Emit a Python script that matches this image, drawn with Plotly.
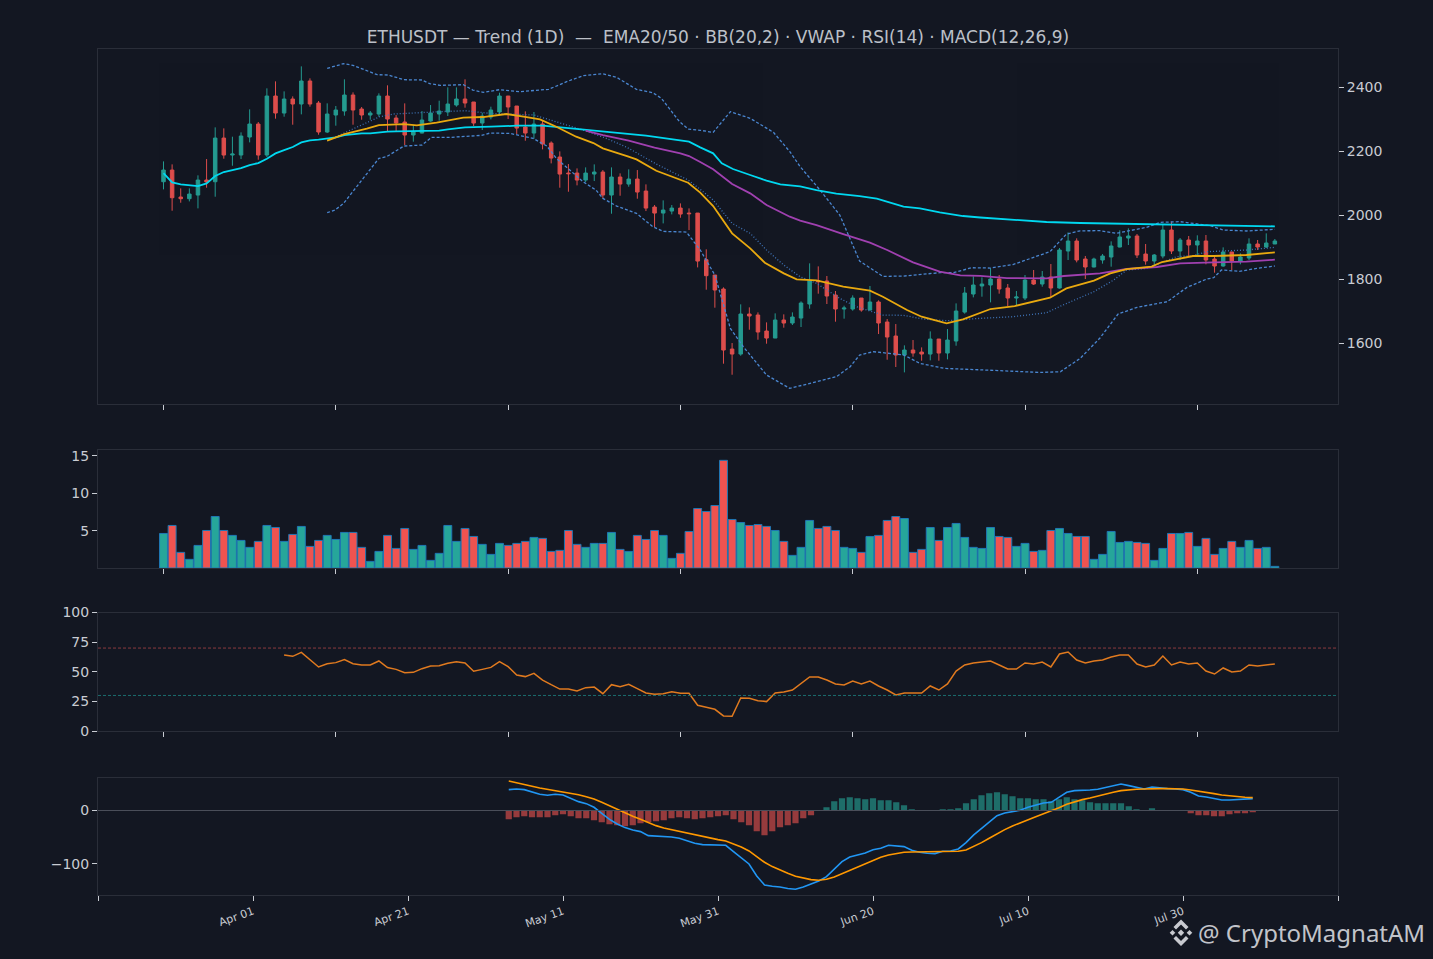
#!/usr/bin/env python3
"""ETHUSDT daily trend chart: candles, volume, RSI and MACD panels."""
import pandas as pd
import plotly.graph_objects as go

W, H = 1433, 959
BG = '#131722'
FRAME = '#2a2e39'
TEXT = '#c9ccd3'
UP = '#26a69a'
DOWN = '#ef5350'

OPEN = [2104.6, 2141.0, 2056.8, 2051.6, 2063.0, 2109.8, 2104.6, 2240.8, 2187.8, 2187.8,
        2244.0, 2284.5, 2187.8, 2371.9, 2318.8, 2362.5, 2346.9, 2418.7, 2350.0, 2259.6,
        2312.6, 2325.1, 2375.0, 2331.3, 2312.6, 2315.7, 2371.9, 2303.2, 2290.8, 2250.2,
        2256.4, 2293.9, 2315.7, 2322.0, 2343.8, 2362.5, 2353.2, 2287.6, 2306.4, 2322.0,
        2371.9, 2340.7, 2275.2, 2256.4, 2284.5, 2225.2, 2181.6, 2131.6, 2131.6, 2109.8,
        2128.5, 2134.8, 2063.0, 2119.2, 2097.3, 2112.9, 2075.5, 2025.6, 2006.8, 2013.1,
        2022.4, 2006.8, 2006.8, 1861.4, 1813.6, 1769.9, 1582.7, 1567.1, 1691.9, 1688.8,
        1638.9, 1617.0, 1673.2, 1663.8, 1679.4, 1723.1, 1794.9, 1794.9, 1751.2, 1707.5,
        1707.5, 1741.8, 1704.4, 1729.4, 1667.0, 1623.3, 1564.0, 1579.6, 1573.4, 1567.1,
        1613.9, 1570.2, 1607.7, 1698.0, 1754.3, 1779.3, 1782.4, 1801.1, 1773.0, 1741.8,
        1741.8, 1798.0, 1785.5, 1807.4, 1773.0, 1888.5, 1919.7, 1863.5, 1838.6, 1860.4,
        1869.8, 1900.9, 1929.0, 1935.3, 1879.1, 1857.3, 1872.9, 1954.0, 1888.5, 1922.8,
        1907.2, 1919.7, 1863.5, 1841.7, 1885.4, 1857.3, 1866.6, 1910.3, 1900.9, 1910.3]
HIGH = [2168.0, 2158.7, 2083.8, 2083.8, 2124.4, 2175.3, 2274.1, 2271.0, 2245.0, 2258.5,
        2330.3, 2290.8, 2395.8, 2417.6, 2386.4, 2370.8, 2464.4, 2427.0, 2356.3, 2349.0,
        2340.7, 2423.9, 2383.3, 2337.6, 2325.1, 2380.2, 2405.2, 2312.6, 2349.0, 2281.4,
        2325.1, 2343.8, 2357.3, 2398.9, 2398.9, 2423.9, 2353.2, 2319.9, 2338.6, 2382.3,
        2371.9, 2340.7, 2324.0, 2322.0, 2297.0, 2230.4, 2199.2, 2159.7, 2146.2, 2149.3,
        2158.7, 2141.0, 2149.3, 2130.6, 2143.1, 2141.0, 2096.3, 2031.8, 2046.4, 2031.8,
        2037.0, 2021.4, 2006.8, 1893.7, 1813.6, 1775.1, 1601.4, 1722.1, 1712.7, 1697.1,
        1665.9, 1694.0, 1690.9, 1697.1, 1731.4, 1850.0, 1840.6, 1810.5, 1763.7, 1717.9,
        1750.2, 1741.8, 1779.3, 1734.6, 1676.3, 1660.7, 1594.2, 1610.8, 1587.9, 1637.8,
        1613.9, 1645.1, 1725.2, 1776.2, 1809.4, 1806.3, 1834.4, 1813.6, 1785.5, 1763.7,
        1813.6, 1829.2, 1826.1, 1847.9, 1897.8, 1946.7, 1928.0, 1872.9, 1867.7, 1879.1,
        1918.6, 1953.0, 1959.2, 1941.5, 1910.3, 1879.1, 1969.6, 1980.0, 1929.0, 1935.3,
        1937.4, 1938.4, 1876.0, 1899.9, 1885.4, 1881.2, 1928.0, 1922.8, 1943.6, 1925.9]
LOW = [2080.7, 2014.1, 2039.1, 2043.2, 2021.4, 2085.9, 2057.8, 2176.4, 2154.5, 2175.3,
       2227.3, 2173.2, 2181.6, 2301.2, 2307.4, 2282.4, 2314.7, 2338.6, 2251.2, 2256.4,
       2279.3, 2310.5, 2282.4, 2298.0, 2298.0, 2307.4, 2262.7, 2259.6, 2219.0, 2229.4,
       2255.4, 2291.8, 2294.9, 2309.5, 2338.6, 2335.5, 2278.3, 2265.8, 2299.1, 2315.7,
       2300.1, 2253.3, 2232.5, 2238.8, 2205.5, 2161.8, 2085.9, 2073.4, 2093.2, 2103.6,
       2106.7, 2052.6, 2004.8, 2060.9, 2089.0, 2051.6, 2013.1, 1963.2, 1974.6, 2002.7,
       1992.3, 1953.8, 1837.3, 1767.8, 1711.7, 1537.0, 1502.6, 1561.9, 1643.0, 1611.8,
       1599.4, 1617.0, 1649.3, 1657.6, 1651.4, 1708.6, 1755.4, 1723.1, 1668.0, 1677.4,
       1702.3, 1699.2, 1703.4, 1629.5, 1549.4, 1526.6, 1509.9, 1558.8, 1546.3, 1547.4,
       1546.3, 1550.5, 1593.1, 1693.0, 1743.9, 1746.0, 1728.3, 1755.4, 1716.9, 1716.9,
       1735.6, 1782.4, 1777.2, 1743.9, 1771.0, 1860.4, 1853.1, 1801.1, 1837.5, 1849.0,
       1839.6, 1899.9, 1907.2, 1866.6, 1845.8, 1844.8, 1865.6, 1879.1, 1860.4, 1870.8,
       1876.0, 1846.9, 1820.9, 1839.6, 1829.2, 1846.9, 1860.4, 1891.6, 1897.8, 1910.3]
CLOSE = [2141.0, 2054.7, 2051.6, 2066.1, 2109.8, 2103.6, 2240.8, 2187.8, 2190.9, 2247.1,
         2284.5, 2187.8, 2371.9, 2318.8, 2362.5, 2346.9, 2418.7, 2346.9, 2259.6, 2315.7,
         2328.2, 2375.0, 2328.2, 2312.6, 2318.8, 2371.9, 2300.1, 2287.6, 2250.2, 2259.6,
         2297.0, 2318.8, 2325.1, 2346.9, 2362.5, 2350.0, 2287.6, 2309.5, 2328.2, 2371.9,
         2337.6, 2272.0, 2256.4, 2284.5, 2222.1, 2178.4, 2128.5, 2129.6, 2109.8, 2131.6,
         2134.8, 2063.0, 2119.2, 2097.3, 2112.9, 2072.4, 2022.4, 2006.8, 2016.2, 2022.4,
         2003.7, 2004.8, 1857.1, 1811.5, 1766.8, 1579.6, 1567.1, 1691.9, 1685.7, 1635.8,
         1617.0, 1673.2, 1663.8, 1682.6, 1726.2, 1794.9, 1792.8, 1748.1, 1707.5, 1710.6,
         1741.8, 1704.4, 1729.4, 1663.8, 1620.2, 1564.0, 1579.6, 1570.2, 1567.1, 1613.9,
         1570.2, 1610.8, 1701.3, 1757.4, 1782.4, 1785.5, 1801.1, 1769.9, 1741.8, 1745.0,
         1798.0, 1785.5, 1807.4, 1773.0, 1891.6, 1919.7, 1860.4, 1838.6, 1863.5, 1872.9,
         1904.1, 1932.2, 1935.3, 1876.0, 1857.3, 1876.0, 1954.0, 1888.5, 1922.8, 1907.2,
         1919.7, 1860.4, 1841.7, 1885.4, 1857.3, 1869.8, 1910.3, 1900.9, 1913.4, 1919.7]
VOLUME = [4.62, 5.69, 2.09, 1.16, 3.02, 5.02, 6.89, 5.02, 4.36, 3.69,
          2.76, 3.56, 5.69, 5.42, 3.56, 4.49, 5.56, 2.89, 3.69, 4.36,
          3.82, 4.76, 4.76, 2.76, 0.89, 2.22, 4.36, 2.62, 5.29, 2.49,
          3.02, 1.02, 1.96, 5.69, 3.56, 5.29, 4.22, 3.16, 1.82, 3.29,
          3.02, 3.29, 3.56, 4.09, 3.96, 2.22, 2.36, 5.02, 3.16, 2.76,
          3.29, 3.29, 4.76, 2.49, 2.22, 4.36, 3.82, 5.02, 4.36, 1.29,
          1.96, 4.89, 7.96, 7.56, 8.36, 14.4, 6.49, 6.09, 5.69, 5.82,
          5.56, 5.02, 3.56, 1.69, 2.76, 6.36, 5.29, 5.56, 5.02, 2.76,
          2.62, 2.09, 4.22, 4.36, 6.36, 6.89, 6.62, 2.09, 2.49, 5.42,
          3.69, 5.42, 5.96, 4.09, 2.76, 2.62, 5.42, 4.22, 4.09, 2.89,
          3.29, 2.22, 2.36, 5.02, 5.29, 4.62, 4.22, 4.22, 1.16, 1.82,
          4.89, 3.42, 3.56, 3.42, 3.29, 1.02, 2.62, 4.62, 4.62, 4.76,
          2.89, 3.96, 1.82, 2.62, 3.56, 2.76, 3.69, 2.62, 2.76, 0.22]

# overlays, read at the bends of each line
EMA_SLOW_X = list(range(34)) + [35, 38, 41, 44, 47, 50, 53, 56, 59, 61, 62.3, 63.8, 64.8, 66.1, 68.1, 70,
                                71.6, 73.9, 75.8, 78.1, 80.8, 82.8, 85.9, 87.8, 90.1, 92.8, 94.8, 98.6,
                                102.5, 106.4, 110.3, 114.1, 118, 121.9, 125.7, 129]
EMA_SLOW = [2131.6, 2102.5, 2096.3, 2093.2, 2091.1, 2099.4, 2122.3, 2134.8, 2141.0, 2147.2,
            2156.6, 2162.8, 2176.4, 2193.0, 2203.4, 2212.8, 2227.3, 2233.6, 2235.6, 2238.8,
            2243.0, 2250.2, 2253.3, 2255.4, 2255.4, 2258.5, 2260.6, 2261.6, 2261.6, 2261.6,
            2261.6, 2262.7, 2263.7, 2267.9, 2274.1, 2276.2, 2279.3, 2279.3, 2272.0, 2265.8,
            2256.4, 2248.1, 2236.7, 2229.4, 2211.8, 2193.1, 2161.9, 2144.2, 2125.5, 2107.8,
            2096.4, 2090.1, 2078.7, 2067.3, 2060.0, 2051.7, 2026.7, 2021.5, 2009.0, 1997.6,
            1993.0, 1985.2, 1979.0, 1975.8, 1973.8, 1971.7, 1970.6, 1967.5, 1966.5, 1965.4]
EMA50_X = [49, 51, 54, 57, 60, 61, 62.3, 63.8, 66, 68.1, 70, 72.7, 73.9, 75.8, 78.9, 82, 84, 87, 90.1,
           92.5, 94.8, 97.9, 102.5, 104.5, 108.7, 111.8, 115.3, 118, 121.9, 125.7, 129]
EMA50 = [2263.7, 2250.2, 2232.5, 2210.7, 2193.0, 2184.7, 2166.0, 2143.2, 2097.4, 2068.3, 2031.9, 1995.5,
         1983.0, 1969.5, 1941.4, 1914.4, 1891.5, 1853.0, 1823.9, 1812.4, 1810.9, 1804.2, 1803.2, 1810.5,
         1818.8, 1832.3, 1838.6, 1850.0, 1853.1, 1855.2, 1861.4]
EMA20_X = [19, 21, 23.6, 25, 27.9, 29.4, 31.7, 34.8, 37.1, 39.8, 41.8, 43.7, 45.6, 47.9, 49.9, 51, 53.8,
           54.9, 57.2, 60.9, 62.3, 63.8, 66, 68.1, 69.8, 72, 73.5, 75.8, 78.9, 82, 83.5, 86.3, 88, 90.9,
           92.8, 94.8, 96, 98.8, 102.9, 104.8, 108, 109.9, 111.8, 114.7, 115.9, 119.5, 121.9, 125.7, 129]
EMA20 = [2232.5, 2253.3, 2270.0, 2281.4, 2284.5, 2280.4, 2288.7, 2304.3, 2306.4, 2315.7, 2307.4, 2299.1,
         2276.2, 2245.0, 2225.2, 2208.6, 2184.7, 2174.3, 2138.9, 2101.5, 2070.4, 2028.8, 1943.5, 1896.7,
         1852.0, 1818.7, 1800.0, 1796.9, 1777.1, 1764.7, 1746.0, 1704.4, 1683.6, 1662.8, 1675.3, 1694.0,
         1707.5, 1716.9, 1742.9, 1772.0, 1796.0, 1818.8, 1832.3, 1839.6, 1854.2, 1872.9, 1872.9, 1876.0,
         1884.3]
BB_MID_X = [19, 21.7, 25.1, 26.7, 29.4, 32.1, 35, 37.9, 43, 45.6, 48.7, 51.4, 53.8, 57.2, 60.9, 62.3, 63.8,
            66, 68.1, 70, 72, 73.9, 75.8, 78.5, 80.4, 83.5, 85.9, 88.2, 90.9, 94.8, 98.6, 102.5, 104.4, 108,
            110.3, 111.8, 114.1, 117.6, 119.5, 121.1, 125.7, 129]
BB_MID = [2232.5, 2265.8, 2307.4, 2315.7, 2320.0, 2323.0, 2326.1, 2317.8, 2312.6, 2291.8, 2265.8, 2239.8,
          2211.7, 2159.7, 2109.8, 2080.8, 2047.5, 1974.7, 1943.5, 1891.5, 1844.7, 1808.3, 1787.6, 1740.8,
          1714.8, 1688.8, 1687.8, 1676.2, 1671.0, 1678.4, 1683.6, 1696.0, 1720.0, 1761.6, 1798.0, 1829.2,
          1834.4, 1870.8, 1873.9, 1886.4, 1891.6, 1899.9]
BB_UP_X = [19, 20.9, 22, 24.8, 26.1, 27.9, 30, 30.9, 32.1, 34.8, 35.9, 37.1, 39, 41.3, 44.7, 46.8, 48.7, 51,
           52.6, 54.9, 56.8, 57.8, 59.9, 60.9, 62.3, 63.8, 65.8, 68.1, 70.8, 72.7, 73.9, 76.2, 78.5, 80.8,
           83.5, 85.9, 90.1, 91.7, 93.8, 96, 98.6, 102.9, 104.8, 106.4, 108.7, 110.6, 114.1, 115.7, 118,
           120.3, 121.5, 123, 125.7, 129]
BB_UP = [2458.2, 2472.8, 2467.6, 2438.4, 2437.4, 2422.8, 2421.8, 2410.4, 2405.2, 2407.2, 2390.6, 2383.3,
         2391.6, 2385.4, 2392.7, 2416.6, 2435.3, 2441.6, 2430.1, 2392.7, 2382.3, 2364.6, 2291.8, 2268.9,
         2265.0, 2258.5, 2323.0, 2302.3, 2258.6, 2198.3, 2151.5, 2078.7, 2000.7, 1857.2, 1809.3, 1810.4,
         1820.8, 1820.8, 1836.4, 1835.4, 1846.3, 1886.4, 1941.0, 1951.4, 1951.9, 1943.6, 1962.3, 1977.9,
         1980.0, 1972.7, 1967.5, 1954.0, 1950.9, 1956.1]
BB_LOW_X = [19, 19.9, 20.9, 23.2, 25, 25.9, 27.9, 30, 31.1, 33.3, 35, 36.9, 37.9, 40.2, 42.9, 44.5, 45.6,
            48.7, 50.2, 51, 52.6, 54.9, 56.8, 58, 60.7, 62.3, 64, 65.8, 67.3, 70, 72.7, 75.8, 78.1, 79.7,
            80.8, 82.4, 85.9, 87.8, 90.6, 95.5, 101.7, 104.1, 106.4, 108.7, 110.8, 113, 116.5, 118.8, 121.1,
            121.9, 122.8, 124.9, 126.9, 129]
BB_LOW = [2007.9, 2016.2, 2037.0, 2115.0, 2177.4, 2182.6, 2215.9, 2219.0, 2242.9, 2242.9, 2245.0, 2249.2,
          2256.4, 2255.4, 2239.8, 2215.9, 2177.4, 2104.6, 2078.6, 2052.6, 2028.7, 2005.8, 1964.2, 1949.6,
          1947.6, 1891.6, 1813.6, 1647.2, 1590.0, 1501.6, 1460.0, 1480.8, 1496.4, 1527.6, 1564.0, 1574.4,
          1564.5, 1538.0, 1522.4, 1517.1, 1509.8, 1511.9, 1553.5, 1617.1, 1691.9, 1712.7, 1730.4, 1775.1,
          1801.1, 1805.3, 1829.2, 1825.0, 1834.4, 1841.7]

RSI_START = 14
RSI = [64.1, 63.0, 66.4, 60.5, 54.0, 56.8, 57.7, 60.2, 56.8, 55.7, 55.7, 59.1, 53.5, 52.0, 49.2, 49.5,
       52.6, 54.9, 55.1, 57.1, 58.5, 57.4, 50.4, 52.0, 53.7, 58.5, 54.3, 47.3, 45.9, 48.7, 43.0, 39.1,
       35.4, 35.4, 33.8, 36.6, 37.1, 31.5, 39.1, 37.4, 39.4, 35.7, 32.1, 31.0, 31.5, 33.2, 31.8, 31.8,
       21.7, 20.0, 18.3, 12.7, 12.4, 27.9, 27.6, 25.6, 24.8, 32.0, 32.9, 34.6, 40.5, 45.6, 45.6, 43.0,
       39.7, 38.8, 42.2, 39.7, 42.2, 38.0, 34.6, 30.4, 32.0, 32.0, 32.0, 38.0, 34.6, 39.7, 50.6, 55.7,
       57.4, 58.2, 59.1, 55.7, 52.3, 52.3, 57.4, 56.5, 58.2, 54.0, 65.0, 66.7, 59.9, 57.4, 59.1, 59.9,
       62.4, 64.1, 64.1, 56.5, 54.0, 55.7, 63.3, 55.7, 58.2, 56.5, 57.4, 50.6, 48.1, 53.2, 49.8, 50.6,
       55.7, 54.9, 55.7, 56.5]

MACD_DATES = pd.date_range('2023-05-04', periods=97, freq='D')
MACD = [39.0, 40.2, 39.0, 34.0, 30.3, 28.4, 30.3, 29.0, 22.8, 16.6, 12.8, 6.0, -5.2, -16.5, -25.2, -32.0,
        -36.4, -39.5, -47.0, -47.6, -49.5, -49.5, -52.0, -57.0, -61.3, -63.8, -64.4, -65.7, -65.0, -76.9,
        -88.1, -100.0, -122.4, -139.2, -141.7, -142.9, -146.0, -147.3, -142.9, -138.0, -131.7, -123.6,
        -109.3, -95.6, -86.9, -83.1, -79.4, -73.2, -70.7, -65.0, -65.7, -67.5, -74.4, -78.1, -80.0, -80.6,
        -76.3, -75.6, -71.9, -60.1, -45.7, -33.3, -20.8, -9.6, -4.6, -2.1, 0.4, 6.0, 10.3, 14.1, 15.3, 24.0,
        34.0, 37.1, 37.1, 38.4, 39.6, 42.7, 46.5, 49.6, 46.5, 42.7, 40.2, 44.0, 42.1, 40.9, 40.2, 39.0, 34.0,
        27.2, 25.3, 22.8, 19.7, 19.7, 20.3, 20.9, 22.2]
SIGNAL = [55.2, 51.4, 48.3, 45.2, 42.1, 39.6, 37.7, 35.9, 32.8, 29.6, 25.9, 21.5, 15.3, 8.5, 1.6, -4.6, -10.9,
          -16.5, -22.7, -28.3, -32.7, -35.8, -38.9, -42.6, -46.4, -49.5, -52.0, -54.5, -57.0, -62.0, -68.2,
          -75.6, -85.6, -96.8, -104.9, -111.8, -117.4, -123.0, -126.7, -129.2, -130.5, -128.6, -124.2, -118.0,
          -111.2, -104.9, -98.7, -93.1, -87.5, -83.1, -80.0, -78.1, -77.5, -77.5, -77.5, -77.5, -77.5, -76.9,
          -76.3, -73.8, -67.5, -60.1, -52.0, -43.2, -35.8, -28.9, -22.7, -17.1, -11.5, -5.9, -0.9, 5.3, 11.6,
          16.6, 20.3, 23.4, 27.2, 30.3, 34.0, 37.1, 39.0, 39.6, 40.2, 40.9, 40.9, 40.9, 40.9, 40.2, 38.4, 36.5,
          34.0, 31.5, 29.0, 27.2, 25.9, 24.7, 24.0]
HIST = [-16.2, -12.5, -10.6, -12.5, -12.5, -12.5, -8.7, -6.9, -10.6, -14.3, -14.3, -18.1, -21.8, -25.5, -27.4,
        -29.3, -27.4, -23.7, -21.8, -19.9, -18.1, -14.3, -12.5, -14.3, -16.2, -14.3, -12.5, -10.6, -8.7, -16.2,
        -21.8, -27.4, -38.6, -46.1, -38.6, -31.2, -27.4, -23.7, -14.3, -8.7, -0.6, 6.2, 17.4, 23.1, 24.9, 23.1,
        21.2, 23.1, 19.3, 19.3, 15.6, 10.0, 2.5, 0.6, -0.6, -0.6, 2.5, 2.5, 4.4, 13.7, 21.2, 28.7, 32.4, 34.3,
        30.5, 26.8, 23.1, 23.1, 21.2, 21.2, 17.4, 21.2, 24.9, 21.2, 19.3, 15.6, 13.7, 13.7, 13.7, 13.7, 8.1, 2.5,
        0.6, 4.4, 0.0, 0.0, -0.6, -0.6, -5.0, -8.7, -8.7, -10.6, -10.6, -6.9, -5.0, -5.0, -3.1]

DATE_TICKS = ['2023-03-12', '2023-04-01', '2023-04-21', '2023-05-11', '2023-05-31',
              '2023-06-20', '2023-07-10', '2023-07-30', '2023-08-19']
DATE_LABELS = ['', 'Apr 01', 'Apr 21', 'May 11', 'May 31', 'Jun 20', 'Jul 10', 'Jul 30', '']
INDEX_TICKS = [0, 20, 40, 60, 80, 100, 120]

candle_x = list(range(len(CLOSE)))
rsi_x = candle_x[RSI_START:]


def fx(px):
    return px / W


def fy(px):
    return 1 - px / H


fig = go.Figure()

# price panel
fig.add_trace(go.Candlestick(
    x=candle_x, open=OPEN, high=HIGH, low=LOW, close=CLOSE,
    whiskerwidth=0,
    increasing=dict(line=dict(color=UP, width=1), fillcolor=UP),
    decreasing=dict(line=dict(color=DOWN, width=1), fillcolor=DOWN),
    opacity=0.92,
    xaxis='x', yaxis='y'
))
for xs, ys, color, dash, width in [
    (BB_UP_X, BB_UP, '#4a86d0', '3px,2px', 1.3),
    (BB_LOW_X, BB_LOW, '#4a86d0', '3px,2px', 1.3),
    (BB_MID_X, BB_MID, '#3f74b8', '1px,2px', 1.3),
    (EMA_SLOW_X, EMA_SLOW, '#00d8f0', 'solid', 1.8),
    (EMA50_X, EMA50, '#a040b0', 'solid', 1.8),
    (EMA20_X, EMA20, '#e9a90f', 'solid', 1.8),
]:
    fig.add_trace(go.Scatter(x=xs, y=ys, mode='lines', line=dict(color=color, dash=dash, width=width),
                             xaxis='x', yaxis='y'))

# volume panel
vol_colors = [UP if c >= o else DOWN for o, c in zip(OPEN, CLOSE)]
fig.add_trace(go.Bar(x=candle_x, y=VOLUME, width=0.92,
                     marker=dict(color=vol_colors, line=dict(color='#1f77b4', width=1)),
                     xaxis='x2', yaxis='y2'))

# rsi panel
fig.add_trace(go.Scatter(x=rsi_x, y=RSI, mode='lines', line=dict(color='#e07a1f', width=1.5),
                         xaxis='x3', yaxis='y3'))
fig.add_shape(type='line', xref='x3 domain', yref='y3', x0=0, x1=1, y0=70, y1=70,
              line=dict(color='#8b3a3f', width=1, dash='3px,2px'))
fig.add_shape(type='line', xref='x3 domain', yref='y3', x0=0, x1=1, y0=30, y1=30,
              line=dict(color='#1b6f6f', width=1, dash='3px,2px'))

# macd panel
hist_colors = ['rgba(38,166,154,0.6)' if v >= 0 else 'rgba(239,83,80,0.6)' for v in HIST]
fig.add_trace(go.Bar(x=MACD_DATES, y=HIST, marker=dict(color=hist_colors, line=dict(width=0)),
                     xaxis='x4', yaxis='y4'))
fig.add_shape(type='line', xref='x4 domain', yref='y4', x0=0, x1=1, y0=0, y1=0,
              line=dict(color='#4a4e59', width=1))
fig.add_trace(go.Scatter(x=MACD_DATES, y=MACD, mode='lines', line=dict(color='#2196f3', width=1.6),
                         xaxis='x4', yaxis='y4'))
fig.add_trace(go.Scatter(x=MACD_DATES, y=SIGNAL, mode='lines', line=dict(color='#ff9800', width=1.6),
                         xaxis='x4', yaxis='y4'))


def axis(**kw):
    base = dict(showgrid=False, zeroline=False, showline=True, mirror=True, linecolor=FRAME, linewidth=1,
                ticks='outside', ticklen=5, tickwidth=1, tickcolor='#c9ccd3', color=TEXT,
                tickfont=dict(size=14, color=TEXT))
    base.update(kw)
    return base


x_dom = [fx(98), fx(1338)]
x_range = [-7.603, 136.33]
index_axis = dict(domain=x_dom, range=x_range, tickmode='array', tickvals=INDEX_TICKS, showticklabels=False)

# sponsor mark next to the handle, drawn in page pixels
LOGO = [
    [(1181, 919.5), (1188.5, 927), (1186, 929.5), (1181, 924.5), (1176, 929.5), (1173.5, 927)],
    [(1181, 946), (1188.5, 938.5), (1186, 936), (1181, 941), (1176, 936), (1173.5, 938.5)],
    [(1181, 929.6), (1184.2, 932.8), (1181, 936), (1177.8, 932.8)],
    [(1172.5, 930), (1175.3, 932.8), (1172.5, 935.6), (1169.7, 932.8)],
    [(1189.5, 930), (1192.3, 932.8), (1189.5, 935.6), (1186.7, 932.8)],
]
for poly in LOGO:
    path = 'M ' + ' L '.join(f'{fx(a):.5f} {fy(b):.5f}' for a, b in poly) + ' Z'
    fig.add_shape(type='path', xref='paper', yref='paper', path=path,
                  fillcolor='#c8cad0', line=dict(width=0), layer='above')

fig.add_annotation(text='@ CryptoMagnatAM', xref='paper', yref='paper', x=fx(1427), y=fy(932),
                   xanchor='right', yanchor='middle', showarrow=False,
                   font=dict(family='Noto Sans', size=24, color='#c2c4ca'))

fig.update_layout(
    width=W, height=H,
    margin=dict(l=0, r=0, t=0, b=0, pad=0, autoexpand=False),
    autosize=False,
    showlegend=False,
    paper_bgcolor=BG,
    plot_bgcolor=BG,
    font=dict(family='DejaVu Sans', color=TEXT),
    bargap=0.2,
    boxgap=0.42,
    title=dict(text='ETHUSDT — Trend (1D)  —  EMA20/50 · BB(20,2) · VWAP · RSI(14) · MACD(12,26,9)',
               x=fx(718), xanchor='center', y=fy(37), yanchor='middle', font=dict(size=17, color='#bcc0c8')),
    xaxis=axis(anchor='y', rangeslider=dict(visible=False), **index_axis),
    yaxis=axis(domain=[fy(404), fy(48.5)], anchor='x', side='right', range=[1411.3, 2520.1],
               tickmode='array', tickvals=[1600, 1800, 2000, 2200, 2400]),
    xaxis2=axis(anchor='y2', **index_axis),
    yaxis2=axis(domain=[fy(568), fy(449.5)], anchor='x2', range=[0, 15.85],
                tickmode='array', tickvals=[5, 10, 15]),
    xaxis3=axis(anchor='y3', **index_axis),
    yaxis3=axis(domain=[fy(731), fy(612.5)], anchor='x3', range=[0, 100],
                tickmode='array', tickvals=[0, 25, 50, 75, 100]),
    xaxis4=axis(domain=x_dom, anchor='y4', type='date', range=['2023-03-12', '2023-08-19'],
                tickmode='array', tickvals=DATE_TICKS, ticktext=DATE_LABELS, tickangle=-20,
                tickfont=dict(size=11, color=TEXT)),
    yaxis4=axis(domain=[fy(895), fy(777.5)], anchor='x4', range=[-158, 61.7],
                tickmode='array', tickvals=[-100, 0]),
)

fig.write_html("out.html", post_script="document.body.style.margin='0';",
               config={'displayModeBar': False})
